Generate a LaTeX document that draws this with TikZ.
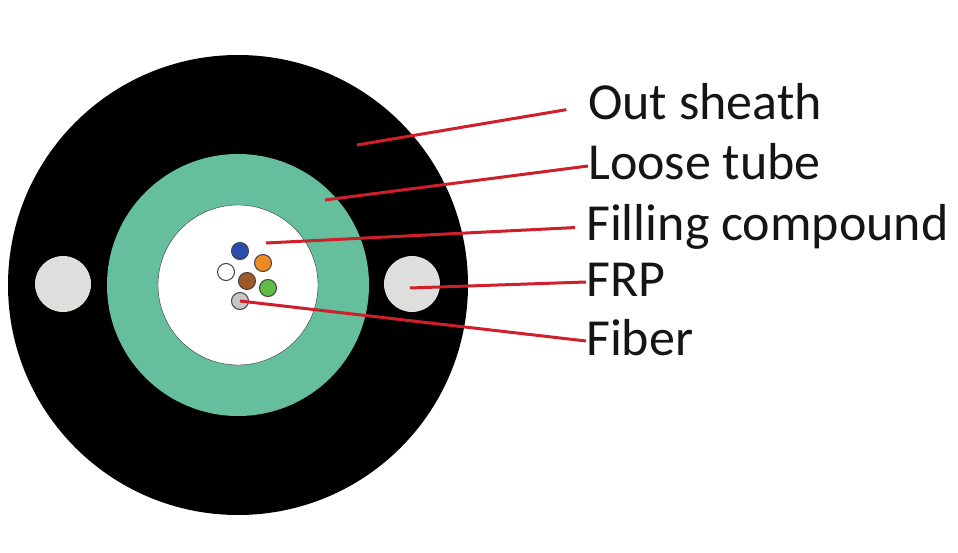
\documentclass[tikz,border=0pt]{standalone}
\usepackage{xcolor}
\usepackage{fontspec}
\setmainfont{Carlito}
\definecolor{tube}{HTML}{66BF9C}
\definecolor{frpgray}{HTML}{DEDEDC}
\definecolor{leader}{HTML}{CE1F2B}
\definecolor{ink}{HTML}{151515}
\definecolor{fbluec}{HTML}{2A4DB0}
\definecolor{forangec}{HTML}{F08A24}
\definecolor{fbrownc}{HTML}{9C5A28}
\definecolor{fgreenc}{HTML}{5DBB46}
\begin{document}
\begin{tikzpicture}[
  x=1pt, y=-1pt,
  disc/.style={circle, inner sep=0pt, outer sep=0pt},
  sheath/.style={disc, fill=black, minimum size=460pt},
  looset/.style={disc, fill=tube, minimum size=262pt},
  gel/.style={disc, fill=white, draw=black!80, thin, minimum size=160pt},
  frp/.style={disc, fill=frpgray, minimum size=56pt},
  fiber/.style={disc, draw=black!75, line width=1pt, minimum size=17pt},
  lbl/.style={anchor=base west, inner sep=0pt, text height=28pt, text depth=0pt, text=ink, font=\fontsize{52}{52}\selectfont},
  lead/.style={draw=leader, line width=3pt}
]
\useasboundingbox (0,0) rectangle (958,553);
% cable cross-section
\node[sheath] (outer) at (238,285) {};
\node[looset] (tube1) at (238,285) {};
\node[gel]    (core)  at (238,285) {};
\node[frp] (frpl) at (63,284) {};
\node[frp] (frpr) at (412,284) {};
% fibers
\node[fiber, fill=fbluec]   (fblue)   at (240,251) {};
\node[fiber, fill=forangec] (forange) at (263,263) {};
\node[fiber, fill=white]    (fwhite)  at (226,272) {};
\node[fiber, fill=fbrownc]  (fbrown)  at (247,281) {};
\node[fiber, fill=fgreenc]  (fgreen)  at (268,288) {};
\node[fiber, fill=gray!45]  (fgray)   at (240,301) {};
% labels
\node[lbl] (lsheath) at (588,120) {Out sheath};
\node[lbl] (ltube)   at (588,180) {Loose tube};
\node[lbl] (lfill)   at (586,241) {Filling compound};
\node[lbl] (lfrp)    at (586,296) {FRP};
\node[lbl] (lfiber)  at (586,355) {Fiber};
% leader start points
\coordinate (psheath) at (357,145);
\coordinate (ptube)   at (325,200);
\coordinate (pfill)   at (266,243);
\coordinate (pfrp)    at (410,288);
\draw[lead, shorten >=22pt] (psheath) -- (lsheath.west);
\draw[lead] (ptube) -- (ltube.west);
\draw[lead, shorten >=11pt] (pfill) -- (lfill.west);
\draw[lead] (pfrp) -- (lfrp.west);
\draw[lead] (fgray.center) -- (lfiber.west);
\end{tikzpicture}
\end{document}
